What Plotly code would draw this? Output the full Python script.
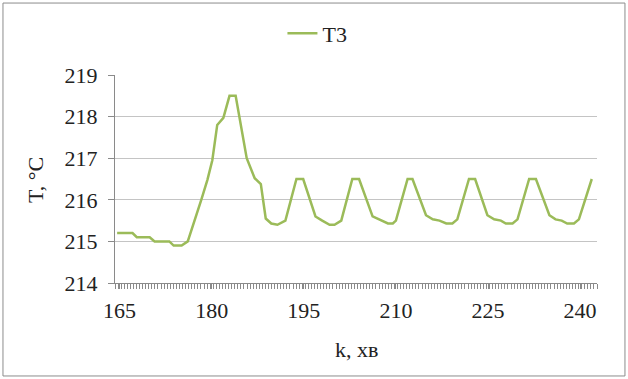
import plotly.graph_objects as go

k_values = [164.6, 167.1, 167.8, 169.9, 170.7, 173.1, 173.8, 175.1, 176.1, 176.9,
            177.7, 178.3, 179.3, 180.1, 180.9, 181.9, 182.9, 183.9, 185.7, 187.0,
            188.0, 188.8, 189.7, 190.7, 192.0, 193.8, 194.9, 196.9, 198.0, 199.2,
            200.0, 201.1, 202.9, 204.0, 206.2, 207.0, 208.7, 209.5, 210.0, 211.9,
            212.7, 214.9, 216.0, 217.1, 218.2, 219.2, 220.0, 221.9, 222.9, 224.9,
            226.0, 227.1, 227.9, 229.0, 229.8, 231.7, 232.8, 235.0, 236.0, 237.0,
            237.9, 239.0, 239.8, 241.9]
t3_values = [215.2, 215.2, 215.1, 215.1, 215.0, 215.0, 214.9, 214.9, 215.0, 215.35,
             215.75, 216.0, 216.48, 216.95, 217.8, 217.97, 218.5, 218.5, 217.0, 216.52,
             216.38, 215.55, 215.43, 215.4, 215.5, 216.5, 216.5, 215.6, 215.5, 215.4,
             215.4, 215.5, 216.5, 216.5, 215.6, 215.55, 215.43, 215.43, 215.5, 216.5,
             216.5, 215.63, 215.53, 215.5, 215.43, 215.43, 215.53, 216.5, 216.5, 215.63,
             215.53, 215.5, 215.43, 215.43, 215.53, 216.5, 216.5, 215.63, 215.53, 215.5,
             215.43, 215.43, 215.53, 216.5]
x_tick_start, x_tick_step = 165, 15
y_ticks = [214, 215, 216, 217, 218, 219]

FONT = "Liberation Serif"
FS = 22
TXT = "#222222"
AX = "#8a8a8a"
fig = go.Figure()
fig.add_trace(go.Scatter(x=k_values, y=t3_values, mode="lines", name="T3",
                         line=dict(color="#9bbb59", width=2.5)))

fig.update_layout(
    width=628, height=379,
    margin=dict(l=115, r=31, t=75, b=96),
    paper_bgcolor="white", plot_bgcolor="white",
    font=dict(family=FONT, size=FS, color=TXT),
    showlegend=True,
    legend=dict(orientation="h", x=0.42, xanchor="center", y=1.2, yanchor="middle",
                font=dict(family=FONT, size=FS, color=TXT),
                bgcolor="rgba(0,0,0,0)", itemwidth=30, tracegroupgap=0),
    xaxis=dict(range=[164.25, 242.75], tickmode="linear", tick0=x_tick_start, dtick=x_tick_step,
               showgrid=False, zeroline=False, showline=True, linecolor=AX, linewidth=1,
               ticks="outside", ticklen=5, tickcolor=AX, tickwidth=1, ticklabelstandoff=3,
               minor=dict(dtick=0.5, tick0=164.25, ticks="outside", ticklen=5,
                          tickcolor=AX, tickwidth=1, showgrid=False),
               tickfont=dict(family=FONT, size=FS, color=TXT)),
    yaxis=dict(range=[214, 219], tickvals=y_ticks, showgrid=True, gridcolor="#c4c4c4",
               gridwidth=1, zeroline=False, showline=True, linecolor=AX, linewidth=1,
               ticks="outside", ticklen=6, tickcolor=AX, tickwidth=1, ticklabelstandoff=6,
               tickfont=dict(family=FONT, size=FS, color=TXT)),
    annotations=[
        dict(text="T, °C", xref="paper", yref="paper", x=-0.166, y=0.495,
             xanchor="center", yanchor="middle",
             textangle=-90, showarrow=False, font=dict(family=FONT, size=FS, color=TXT)),
        dict(text="k, хв", xref="paper", yref="paper", x=0.5, y=-0.322,
             xanchor="center", yanchor="middle",
             showarrow=False, font=dict(family=FONT, size=FS, color=TXT)),
    ],
    shapes=[dict(type="rect", xref="paper", yref="paper", x0=-0.2324, x1=1.058,
                 y0=-0.447, y1=1.346, line=dict(color="#8c8c8c", width=1))],
)

fig.write_html("out.html")
